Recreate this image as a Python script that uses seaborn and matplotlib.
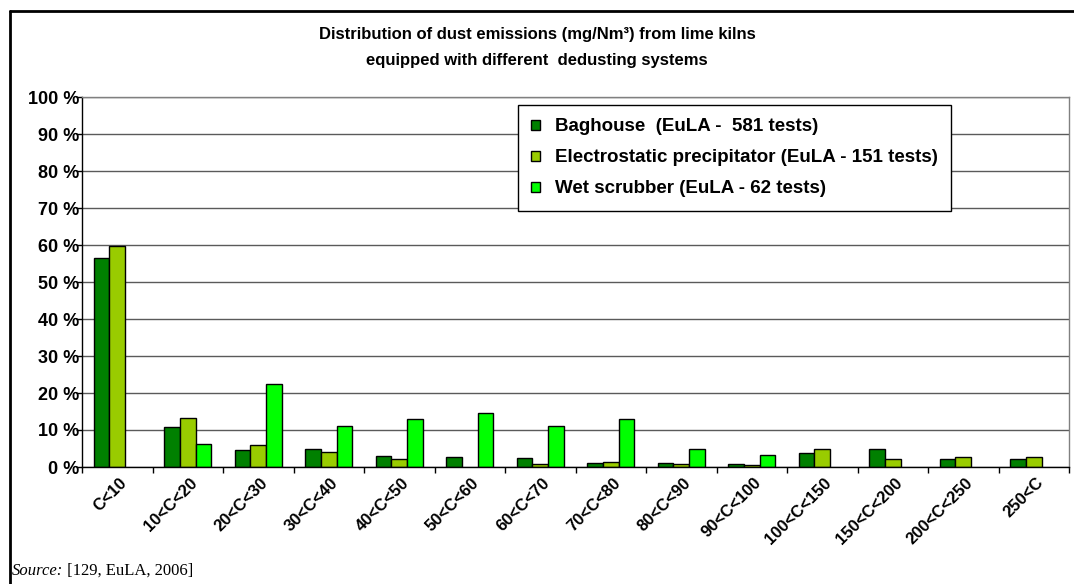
import numpy as np
import pandas as pd
import matplotlib
matplotlib.use("Agg")
import matplotlib.pyplot as plt
import matplotlib.transforms as mtransforms
import seaborn as sns
from matplotlib.lines import Line2D

# Emission concentration classes (mg/Nm3)
categories = ["C<10", "10<C<20", "20<C<30", "30<C<40", "40<C<50", "50<C<60",
              "60<C<70", "70<C<80", "80<C<90", "90<C<100", "100<C<150",
              "150<C<200", "200<C<250", "250<C"]

# Share of tests (%) per dedusting system
baghouse = [56.6, 10.9, 4.7, 5.0, 3.0, 2.7, 2.3, 1.0, 1.0, 0.7, 3.8, 4.8, 2.1, 2.1]
electrostatic = [59.6, 13.3, 5.9, 4.0, 2.1, np.nan, 0.8, 1.3, 0.7, 0.6, 4.8, 2.1, 2.8, 2.8]
wet_scrubber = [np.nan, 6.3, 22.5, 11.2, 12.9, 14.6, 11.2, 12.9, 5.0, 3.3,
                np.nan, np.nan, np.nan, np.nan]

series = ["Baghouse  (EuLA -  581 tests)",
          "Electrostatic precipitator (EuLA - 151 tests)",
          "Wet scrubber (EuLA - 62 tests)"]
colors = ["#008000", "#99CC00", "#00FF00"]

y_ticks = list(range(0, 101, 10))
y_labels = [f"{v} %" for v in y_ticks]

frames = []
for name, vals in zip(series, [baghouse, electrostatic, wet_scrubber]):
    frames.append(pd.DataFrame({"range": categories, "share": vals, "system": name}))
df = pd.concat(frames, ignore_index=True).dropna()

sns.set_style("white")
plt.rcParams["font.family"] = ["Liberation Sans", "DejaVu Sans"]
plt.rcParams["text.color"] = "black"
plt.rcParams["xtick.color"] = "black"
plt.rcParams["ytick.color"] = "black"
plt.rcParams["axes.labelcolor"] = "black"

W, H = 1074, 584
fig = plt.figure(figsize=(W / 100, H / 100), dpi=100)
ax = fig.add_axes([82 / W, 1 - 467 / H, (1069 - 82) / W, (467 - 97) / H])

sns.barplot(data=df, x="range", y="share", hue="system", order=categories,
            hue_order=series, palette=colors, saturation=1, width=0.66,
            edgecolor="black", linewidth=1, errorbar=None, ax=ax)

ax.set_xlim(-0.5, len(categories) - 0.5)
ax.set_ylim(0, 100)
ax.set_xlabel("")
ax.set_ylabel("")

# y axis
ax.set_yticks(y_ticks)
ax.set_yticklabels(y_labels, fontsize=13, fontweight="bold", color="black")
ax.yaxis.grid(True, color="#5a5a5a", linewidth=1)
ax.set_axisbelow(True)
ax.tick_params(axis="y", which="major", direction="out", length=4, width=1,
               color="black", pad=-2, left=True)

# x axis: labels at class centres, tick marks at class boundaries
ax.set_xticks(range(len(categories)))
ax.set_xticklabels(categories, fontsize=12, fontweight="bold", rotation=45,
                   ha="right", va="center", rotation_mode="anchor", color="black")
ax.set_xticks(np.arange(-0.5, len(categories), 1.0), minor=True)
ax.tick_params(axis="x", which="major", length=0, pad=14, bottom=True)
ax.tick_params(axis="x", which="minor", direction="out", length=4, width=1,
               color="black", bottom=True)
shift = mtransforms.ScaledTranslation(0.07, 0.06, fig.dpi_scale_trans)
for lab in ax.get_xticklabels():
    lab.set_transform(lab.get_transform() + shift)

for side in ["left", "bottom"]:
    ax.spines[side].set_color("black")
    ax.spines[side].set_linewidth(1)
for side in ["top", "right"]:
    ax.spines[side].set_color("#808080")
    ax.spines[side].set_linewidth(1)

# legend
handles, _ = ax.get_legend_handles_labels()
ax.legend(handles, series, loc="upper left", bbox_to_anchor=(0.4417, 0.978),
          frameon=True, fancybox=False, edgecolor="black", framealpha=1,
          prop={"weight": "bold", "size": 13.5}, handlelength=0.45,
          handleheight=0.45, labelspacing=0.75, borderpad=0.7,
          handletextpad=0.8, borderaxespad=0, labelcolor="black")
ax.get_legend().get_frame().set_linewidth(1)

# title
fig.text(0.5, 1 - 34 / H, "Distribution of dust emissions (mg/Nm³) from lime kilns",
         ha="center", va="center", fontsize=12, fontweight="bold", color="black")
fig.text(0.5, 1 - 60 / H, "equipped with different  dedusting systems",
         ha="center", va="center", fontsize=12, fontweight="bold", color="black")

# outer frame
fig.add_artist(Line2D([10 / W, 1], [1 - 11 / H, 1 - 11 / H],
                      transform=fig.transFigure, color="black", linewidth=2))
fig.add_artist(Line2D([10 / W, 10 / W], [0, 1 - 11 / H],
                      transform=fig.transFigure, color="black", linewidth=2))

# source line
src = fig.text(12 / W, 1 - 579 / H, "Source:", fontsize=12, style="italic",
               family="Liberation Serif", ha="left", va="bottom", color="black")
ax.annotate(" [129, EuLA, 2006]", xy=(1, 0), xycoords=src, fontsize=12,
            family="Liberation Serif", ha="left", va="bottom", color="black",
            annotation_clip=False)

fig.savefig("out.png", dpi=100)
